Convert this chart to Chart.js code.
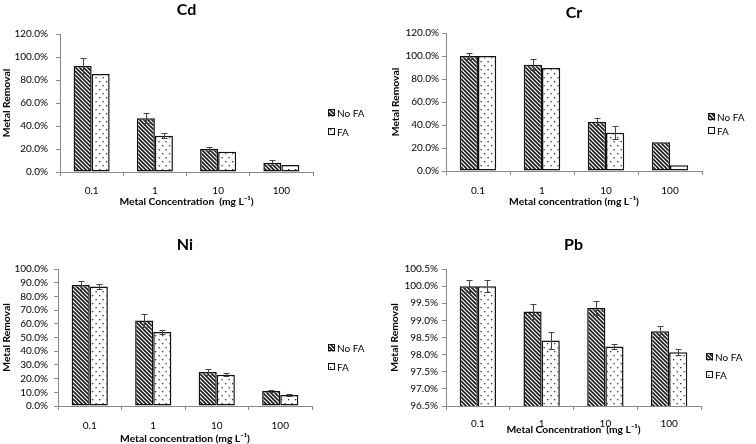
<!DOCTYPE html>
<html lang="en">
<head>
<meta charset="UTF-8">
<title>Metal Removal</title>
<style>
    html, body { margin: 0; padding: 0; background: #fff; }
    #wrap { position: relative; width: 756px; height: 444px; overflow: hidden; }
    .panel { position: absolute; width: 378px; height: 222px; }
</style>
<script src="https://cdn.jsdelivr.net/npm/chart.js"></script>
</head>
<body>
<div id="wrap">
    <div class="panel" style="left:0;top:0"><canvas id="cdChart" width="378" height="222"></canvas></div>
    <div class="panel" style="left:378px;top:0"><canvas id="crChart" width="378" height="222"></canvas></div>
    <div class="panel" style="left:0;top:222px"><canvas id="niChart" width="378" height="222"></canvas></div>
    <div class="panel" style="left:378px;top:222px"><canvas id="pbChart" width="378" height="222"></canvas></div>
</div>
<script>
// data (percent removal)
const categories = ['0.1', '1', '10', '100'];
const seriesNames = ['No FA', 'FA'];

const cdNoFA = [92.2, 46.7, 20.0, 8.1];
const cdNoFAErr = [6.5, 4.5, 2.0, 2.0];
const cdFA = [85.2, 31.6, 17.7, 6.1];
const cdFAErr = [0, 2.0, 0, 0];

const crNoFA = [100.0, 92.5, 42.8, 24.9];
const crNoFAErr = [3.0, 4.5, 3.0, 0];
const crFA = [100.0, 89.6, 33.2, 4.9];
const crFAErr = [0, 0, 5.8, 0];

const niNoFA = [88.4, 62.5, 24.9, 10.9];
const niNoFAErr = [2.7, 5.0, 2.0, 0.5];
const niFA = [87.2, 54.0, 22.8, 8.0];
const niFAErr = [1.8, 1.5, 1.0, 0.7];

const pbNoFA = [100.0, 99.26, 99.36, 98.68];
const pbNoFAErr = [0.18, 0.22, 0.21, 0.17];
const pbFA = [100.0, 98.41, 98.24, 98.07];
const pbFAErr = [0.17, 0.26, 0.08, 0.08];

const FONT = 'Lato, "Open Sans", sans-serif';
Chart.defaults.font.family = FONT;
Chart.defaults.color = '#000';

// fill patterns
function hatchPattern() {
    const c = document.createElement('canvas');
    c.width = 4; c.height = 4;
    const g = c.getContext('2d');
    g.fillStyle = '#fff';
    g.fillRect(0, 0, 4, 4);
    g.strokeStyle = '#1a1a1a';
    g.lineWidth = 1.6;
    g.beginPath();
    g.moveTo(-1, -1); g.lineTo(5, 5);
    g.moveTo(3, -1); g.lineTo(5, 1);
    g.moveTo(-1, 3); g.lineTo(1, 5);
    g.stroke();
    return g.createPattern(c, 'repeat');
}
function dotPattern() {
    const c = document.createElement('canvas');
    c.width = 7; c.height = 8;
    const g = c.getContext('2d');
    g.fillStyle = '#fff';
    g.fillRect(0, 0, 7, 8);
    g.fillStyle = '#333';
    g.fillRect(1, 1, 1.3, 1.3);
    g.fillRect(4.5, 5, 1.3, 1.3);
    return g.createPattern(c, 'repeat');
}

// error bars from dataset.errors
const errorBars = {
    id: 'errorBars',
    afterDatasetsDraw(chart) {
        const ctx = chart.ctx;
        const y = chart.scales.y;
        ctx.save();
        ctx.strokeStyle = '#444';
        ctx.lineWidth = 1;
        chart.data.datasets.forEach((ds, i) => {
            chart.getDatasetMeta(i).data.forEach((bar, j) => {
                const e = ds.errors[j];
                if (!e) return;
                const v = ds.data[j];
                const top = Math.round(y.getPixelForValue(v + e)) + 0.5;
                const bot = Math.round(y.getPixelForValue(v - e)) + 0.5;
                const x = Math.round(bar.x) + 0.5;
                ctx.beginPath();
                ctx.moveTo(x, top); ctx.lineTo(x, bot);
                ctx.moveTo(x - 3, top); ctx.lineTo(x + 3, top);
                ctx.moveTo(x - 3, bot); ctx.lineTo(x + 3, bot);
                ctx.stroke();
            });
        });
        ctx.restore();
    }
};

// small legend on the right, Excel style
const sideLegend = {
    id: 'sideLegend',
    afterDraw(chart, args, opts) {
        const ctx = chart.ctx;
        ctx.save();
        ctx.font = '10px ' + FONT;
        ctx.textBaseline = 'middle';
        chart.data.datasets.forEach((ds, i) => {
            const cy = opts.y[i];
            ctx.fillStyle = ds.backgroundColor;
            ctx.fillRect(opts.x, cy - 3.5, 7, 7);
            ctx.strokeStyle = '#111';
            ctx.lineWidth = 1;
            ctx.strokeRect(opts.x + 0.5, cy - 3.5, 6, 6);
            ctx.fillStyle = '#000';
            ctx.fillText(ds.label, opts.x + 9, cy + 0.5);
        });
        ctx.restore();
    }
};

const hatch = hatchPattern();
const dots = dotPattern();

const AXIS_TITLE = 10.3;

function makeChart(id, L, title, xTitle, yMin, yMax, yStep, noFA, noFAErr, fa, faErr) {
    const titleLh = 16 * 1.2;
    const titlePadTop = L.titleY - titleLh / 2;
    const titlePadBottom = L.top - titlePadTop - titleLh;
    const axLh = AXIS_TITLE * 1.2;
    const xHeight = L.xTitleY + axLh / 2 + 2 - L.bottom;
    const padBottom = 222 - L.xTitleY - axLh / 2 - 2;
    const axisColor = '#8a8a8a';

    return new Chart(document.getElementById(id), {
        type: 'bar',
        data: {
            labels: categories,
            datasets: [
                { label: seriesNames[0], data: noFA, errors: noFAErr, backgroundColor: hatch,
                  borderColor: '#111', borderWidth: 1.5, borderSkipped: false },
                { label: seriesNames[1], data: fa, errors: faErr, backgroundColor: dots,
                  borderColor: '#111', borderWidth: 1.5, borderSkipped: false }
            ]
        },
        options: {
            responsive: false,
            animation: false,
            layout: { padding: { left: 0, top: 0, right: 378 - L.right, bottom: padBottom } },
            datasets: { bar: { categoryPercentage: 0.57, barPercentage: 1 } },
            plugins: {
                legend: { display: false },
                tooltip: { enabled: false },
                title: {
                    display: true, text: title, fullSize: false, color: '#000',
                    font: { size: 16, weight: 'bold' },
                    padding: { top: titlePadTop, bottom: titlePadBottom }
                },
                sideLegend: { x: L.legendX, y: L.legendY }
            },
            scales: {
                x: {
                    grid: { display: true, drawOnChartArea: false, tickLength: 4, color: axisColor },
                    border: { color: axisColor },
                    ticks: { font: { size: 10 }, color: '#000', padding: L.xTickPad, maxRotation: 0 },
                    title: { display: true, text: xTitle, color: '#000',
                             font: { size: AXIS_TITLE, weight: 'bold' }, padding: { top: 0, bottom: 2 } },
                    afterFit: s => { s.height = xHeight; }
                },
                y: {
                    min: yMin, max: yMax,
                    grid: { display: true, drawOnChartArea: false, tickLength: 4, color: axisColor },
                    border: { color: axisColor },
                    ticks: { stepSize: yStep, autoSkip: false, font: { size: 10 }, color: '#000', padding: L.yTickPad,
                             callback: v => Number(v).toFixed(1) + '%' },
                    title: { display: true, text: 'Metal Removal', color: '#000',
                             font: { size: AXIS_TITLE, weight: 'bold' }, padding: { top: L.yTitleX - axLh / 2, bottom: 0 } },
                    afterFit: s => { s.width = L.left; }
                }
            }
        },
        plugins: [errorBars, sideLegend]
    });
}

// panel geometry (canvas-local pixels)
const cdLayout = { left: 60, right: 313, top: 34, bottom: 172, titleY: 10, yTitleX: 7, yTickPad: 8,
                   xTickPad: 9, xTitleY: 202, legendX: 328, legendY: [113, 132] };
const crLayout = { left: 68, right: 324, top: 33, bottom: 171, titleY: 13, yTitleX: 18, yTickPad: 3,
                   xTickPad: 10, xTitleY: 202, legendX: 330, legendY: [117, 131] };
const niLayout = { left: 58, right: 312, top: 47, bottom: 184, titleY: 23, yTitleX: 7, yTickPad: 6,
                   xTickPad: 10, xTitleY: 217, legendX: 328, legendY: [126, 145] };
const pbLayout = { left: 68, right: 323, top: 47, bottom: 184, titleY: 23, yTitleX: 17, yTickPad: 4,
                   xTickPad: 8, xTitleY: 208, legendX: 328, legendY: [135, 153] };

makeChart('cdChart', cdLayout, 'Cd', 'Metal Concentration  (mg L\u207B\u00B9)', 0, 120, 20, cdNoFA, cdNoFAErr, cdFA, cdFAErr);
makeChart('crChart', crLayout, 'Cr', 'Metal concentration (mg L\u207B\u00B9)', 0, 120, 20, crNoFA, crNoFAErr, crFA, crFAErr);
makeChart('niChart', niLayout, 'Ni', 'Metal concentration (mg L\u207B\u00B9)', 0, 100, 10, niNoFA, niNoFAErr, niFA, niFAErr);
makeChart('pbChart', pbLayout, 'Pb', 'Metal Concentration  (mg L\u207B\u00B9)', 96.5, 100.5, 0.5, pbNoFA, pbNoFAErr, pbFA, pbFAErr);
</script>
</body>
</html>
